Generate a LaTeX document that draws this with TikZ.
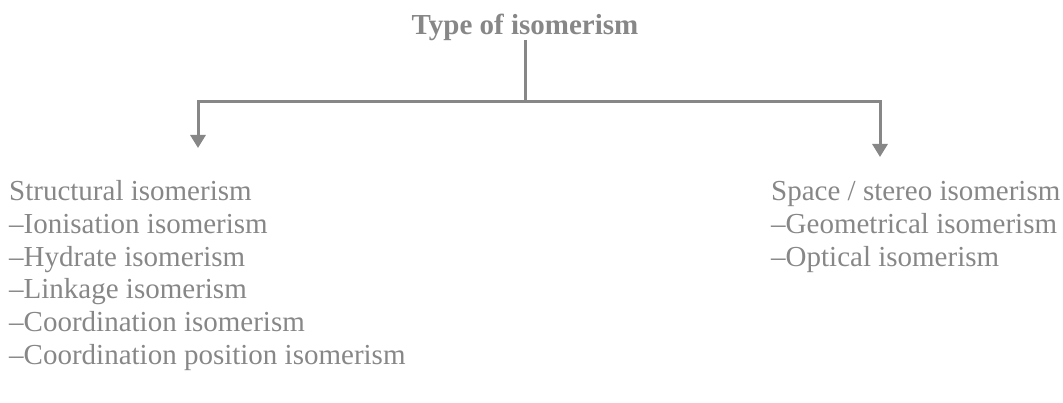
\documentclass[tikz,border=0pt]{standalone}
\usepackage{fontspec}
\setmainfont{Liberation Serif}
\usetikzlibrary{arrows.meta}
\definecolor{tg}{HTML}{878787}
\begin{document}
\begin{tikzpicture}[x=1pt,y=-1pt,
  lbl/.style={anchor=base west,inner sep=0pt,text=tg,font=\fontsize{29}{32.6}\selectfont},
  ttl/.style={anchor=base,inner sep=0pt,text=tg,font=\fontsize{29}{32}\selectfont\bfseries},
  conn/.style={draw=tg,line width=3pt},
  arr/.style={conn,-{Triangle[width=15pt,length=13pt]}}]
\useasboundingbox (0,0) rectangle (1063,403);
\node[ttl] (title) at (525,35) {Type of isomerism};
\coordinate (j) at (525,102);
\coordinate (lc) at (198,102);
\coordinate (rc) at (880,102);
\node[lbl] (s0) at (9,201) {Structural isomerism};
\node[lbl] (s1) at (9,233.6) {–Ionisation isomerism};
\node[lbl] (s2) at (9,266.2) {–Hydrate isomerism};
\node[lbl] (s3) at (9,298.8) {–Linkage isomerism};
\node[lbl] (s4) at (9,331.4) {–Coordination isomerism};
\node[lbl] (s5) at (9,364) {–Coordination position isomerism};
\node[lbl] (p0) at (771,201) {Space / stereo isomerism};
\node[lbl] (p1) at (771,233.6) {–Geometrical isomerism};
\node[lbl] (p2) at (771,266.2) {–Optical isomerism};
\coordinate (lt) at (198,148);
\coordinate (rt) at (880,157);
\draw[conn] (title.south |- 0,40) -- (j);
\draw[arr] (j) -- (lc) -- (lt);
\draw[arr] (j) -- (rc) -- (rt);
\end{tikzpicture}
\end{document}
